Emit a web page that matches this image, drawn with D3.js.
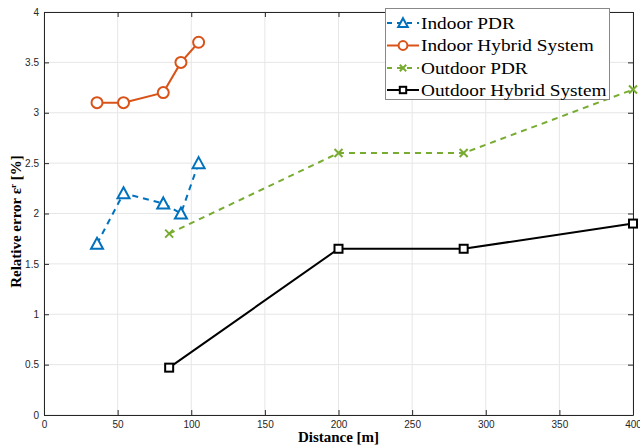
<!DOCTYPE html>
<html><head><meta charset="utf-8">
<script src="https://cdn.jsdelivr.net/npm/d3@7"></script>
<style>body{margin:0;background:#fff}svg{display:block}</style>
</head><body><svg id="c" width="640" height="448"></svg>
<script>
const xTicks = [0,50,100,150,200,250,300,350,400];
const yTicks = [0,0.5,1,1.5,2,2.5,3,3.5,4];
const indoorX = [36,54,81,93,105];
const indoorPDR = [1.7,2.2,2.1,2.0,2.5];
const indoorHybrid = [3.1,3.1,3.2,3.5,3.7];
const outdoorX = [85,200,285,400];
const outdoorPDR = [1.8,2.6,2.6,3.23];
const outdoorHybrid = [0.47,1.65,1.65,1.9];
const seriesNames = ["Indoor PDR","Indoor Hybrid System","Outdoor PDR","Outdoor Hybrid System"];

const series = [
  {name:seriesNames[0], xs:indoorX, ys:indoorPDR, color:"#0072BD", dash:"6,5", marker:"tri"},
  {name:seriesNames[1], xs:indoorX, ys:indoorHybrid, color:"#D95319", dash:null, marker:"circ"},
  {name:seriesNames[2], xs:outdoorX, ys:outdoorPDR, color:"#77AC30", dash:"6,5", marker:"x"},
  {name:seriesNames[3], xs:outdoorX, ys:outdoorHybrid, color:"#000000", dash:null, marker:"sq"}
];

const L=44,R=633,T=12,B=415;
const svg=d3.select("#c");
const x=d3.scaleLinear().domain([0,400]).range([L,R]);
const y=d3.scaleLinear().domain([0,4]).range([B,T]);

// grid
const g=svg.append("g");
g.selectAll(".vg").data(xTicks).join("line").attr("x1",d=>x(d)).attr("x2",d=>x(d)).attr("y1",T).attr("y2",B).attr("stroke","#e6e6e6").attr("stroke-width",1);
g.selectAll(".hg").data(yTicks).join("line").attr("y1",d=>y(d)).attr("y2",d=>y(d)).attr("x1",L).attr("x2",R).attr("stroke","#e6e6e6").attr("stroke-width",1);

// axes
const tickFont = "Liberation Sans, Arial, sans-serif";
const ax=svg.append("g").attr("transform",`translate(0,${B})`).call(d3.axisBottom(x).tickValues(xTicks).tickSizeInner(-5).tickSizeOuter(0).tickPadding(6));
const ay=svg.append("g").attr("transform",`translate(${L},0)`).call(d3.axisLeft(y).tickValues(yTicks).tickSizeInner(-5).tickSizeOuter(0).tickPadding(5).tickFormat(d3.format("")));
const at=svg.append("g").attr("transform",`translate(0,${T})`).call(d3.axisTop(x).tickValues(xTicks).tickSizeInner(-5).tickSizeOuter(0).tickFormat(""));
const ar=svg.append("g").attr("transform",`translate(${R},0)`).call(d3.axisRight(y).tickValues(yTicks).tickSizeInner(-5).tickSizeOuter(0).tickFormat(""));
[ax,ay,at,ar].forEach(a=>{
  a.selectAll("path").attr("stroke","#262626").attr("stroke-width",1);
  a.selectAll("line").attr("stroke","#262626");
  a.selectAll("text").attr("fill","#262626").style("font-family",tickFont).style("font-size","10px");
});

// lines
const line=d3.line().x(d=>x(d[0])).y(d=>y(d[1]));
series.forEach(s=>{
  const pts=s.xs.map((v,i)=>[v,s.ys[i]]);
  svg.append("path").attr("d",line(pts)).attr("fill","none").attr("stroke",s.color).attr("stroke-width",2).attr("stroke-dasharray",s.dash);
  pts.forEach(p=>drawMarker(svg,s.marker,x(p[0]),y(p[1]),s.color,1));
});

function drawMarker(sel,m,cx,cy,c,k){
  if(m==="tri"){
    sel.append("path").attr("d",`M${cx},${cy-6*k}L${cx+6*k},${cy+5*k}L${cx-6*k},${cy+5*k}Z`).attr("fill","#fff").attr("stroke",c).attr("stroke-width",2);
  }else if(m==="circ"){
    sel.append("circle").attr("cx",cx).attr("cy",cy).attr("r",5.5*k).attr("fill","#fff").attr("stroke",c).attr("stroke-width",2);
  }else if(m==="x"){
    sel.append("path").attr("d",`M${cx-4*k},${cy-4*k}L${cx+4*k},${cy+4*k}M${cx-4*k},${cy+4*k}L${cx+4*k},${cy-4*k}`).attr("stroke",c).attr("stroke-width",2);
  }else if(m==="sq"){
    sel.append("rect").attr("x",cx-4*k).attr("y",cy-4*k).attr("width",8*k).attr("height",8*k).attr("fill","#fff").attr("stroke",c).attr("stroke-width",2);
  }
}

// legend
const lg=svg.append("g");
lg.append("rect").attr("x",385.5).attr("y",8.5).attr("width",224).attr("height",91).attr("fill","#fff").attr("stroke","#888").attr("stroke-width",1);
const rowY=[23,45.5,68,90];
series.forEach((s,i)=>{
  const yy=rowY[i];
  lg.append("line").attr("x1",387).attr("x2",419).attr("y1",yy).attr("y2",yy).attr("stroke",s.color).attr("stroke-width",2).attr("stroke-dasharray",s.dash?"5,5":null);
  drawMarker(lg,s.marker,403,yy,s.color,0.8);
  const t=lg.append("text").attr("x",421).attr("y",yy+5.5).text(s.name).style("font-family","Liberation Serif, Times New Roman, serif").style("font-size","16.5px").attr("fill","#000");
  const w=t.node().getComputedTextLength();
  t.attr("textLength",w*1.17).attr("lengthAdjust","spacingAndGlyphs");
});

// axis labels
svg.append("text").attr("x",(L+R)/2).attr("y",442).attr("text-anchor","middle").style("font-family","Liberation Serif, serif").style("font-size","15px").style("font-weight","bold").text("Distance [m]");
const yl=svg.append("text").attr("transform",`translate(21,${(T+B)/2+8}) rotate(-90)`).attr("text-anchor","middle").style("font-family","Liberation Serif, serif").style("font-size","15px").style("font-weight","bold");
yl.append("tspan").text("Relative error  ε");
yl.append("tspan").attr("baseline-shift","super").style("font-size","9px").text("r");
yl.append("tspan").text("  [%]");
</script></body></html>
